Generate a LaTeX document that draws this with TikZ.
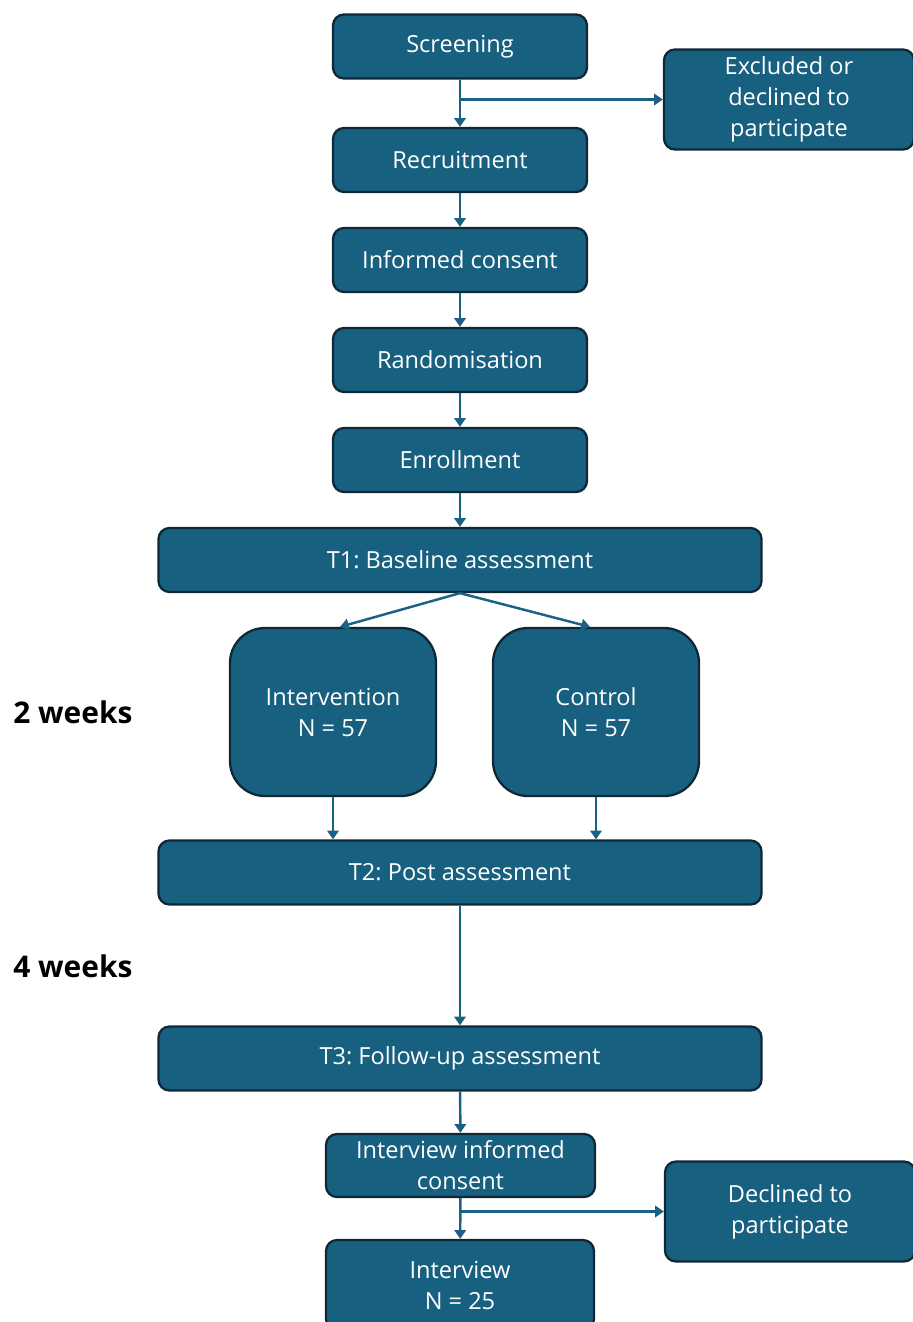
\documentclass[tikz,border=0pt]{standalone}
\usepackage{fontspec}
\setmainfont{Open Sans}
\frenchspacing
\usetikzlibrary{arrows.meta, positioning}
\definecolor{boxblue}{RGB}{24,96,128}
\definecolor{boxedge}{RGB}{14,40,56}
\definecolor{linkblue}{RGB}{26,98,133}
\tikzstyle{stage} = [rectangle, rounded corners=0.22cm, minimum width=5.08cm, minimum height=1.28cm, text centered, align=center, draw=boxedge, line width=1.3pt, fill=boxblue, text=white, font=\fontsize{13.4}{17.6}\selectfont, inner sep=2pt]
\tikzstyle{wide} = [stage, minimum width=12.06cm]
\tikzstyle{arm} = [stage, rounded corners=0.7cm, minimum width=4.12cm, minimum height=3.36cm]
\tikzstyle{side} = [stage, minimum width=5.0cm, minimum height=2.0cm]
\tikzstyle{period} = [font=\fontsize{17}{20}\selectfont\bfseries, anchor=west, inner sep=0pt]
\tikzstyle{arrow} = [line width=1.4pt, draw=linkblue, -{Triangle[length=5pt, width=6.5pt]}]

\begin{document}
\begin{tikzpicture}[node distance=2cm]
\useasboundingbox (0,0) rectangle (18.24,-26.44);

\node (screen) [stage] at (9.2,-0.93) {Screening};
\node (recruit) [stage] at (9.2,-3.2) {Recruitment};
\node (consent) [stage, below of=recruit] {Informed consent};
\node (random) [stage, below of=consent] {Randomisation};
\node (enrol) [stage, below of=random] {Enrollment};
\node (base) [wide, below of=enrol] {T1: Baseline assessment};
\node (interv) [arm] at (6.66,-14.24) {Intervention\\N = 57};
\node (control) [arm] at (11.92,-14.24) {Control\\N = 57};
\node (post) [wide] at (9.2,-17.45) {T2: Post assessment};
\node (follow) [wide] at (9.2,-21.17) {T3: Follow-up assessment};
\node (iconsent) [stage, minimum width=5.38cm, minimum height=1.26cm] at (9.21,-23.31) {Interview informed\\consent};
\node (interview) [stage, minimum width=5.36cm, minimum height=1.8cm] at (9.2,-25.7) {Interview\\N = 25};
\node (excluded) [side] at (15.78,-1.99) {Excluded or\\declined to\\participate};
\node (declined) [side] at (15.8,-24.23) {Declined to\\participate};

\node (two) [period] at (0.26,-14.24) {2 weeks};
\node (four) [period] at (0.26,-19.32) {4 weeks};

\coordinate (split1) at (9.2,-1.99);
\coordinate (split2) at (9.2,-24.23);

\draw [arrow] (screen) -- (recruit);
\draw [arrow] (split1) -- (excluded);
\draw [arrow] (recruit) -- (consent);
\draw [arrow] (consent) -- (random);
\draw [arrow] (random) -- (enrol);
\draw [arrow] (enrol) -- (base);
\draw [arrow] (base.south) -- ([xshift=0.14cm]interv.north);
\draw [arrow] (base.south) -- ([xshift=-0.12cm]control.north);
\draw [arrow] (interv.south) -- (interv.south |- post.north);
\draw [arrow] (control.south) -- (control.south |- post.north);
\draw [arrow] (post) -- (follow);
\draw [arrow] (follow) -- (iconsent);
\draw [arrow] (iconsent) -- (interview);
\draw [arrow] (split2) -- (declined);

\end{tikzpicture}
\end{document}
